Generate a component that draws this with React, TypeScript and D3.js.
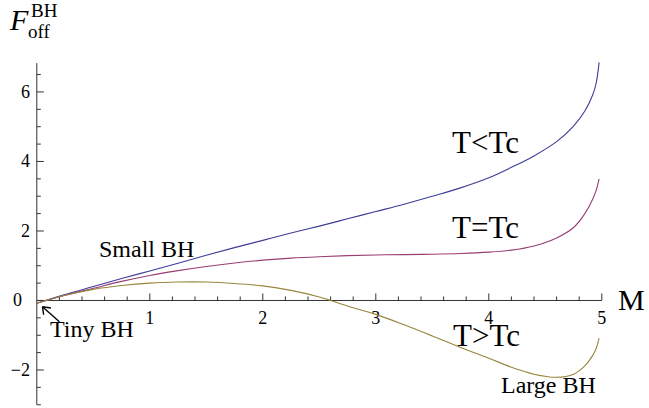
import React from 'react';
import * as d3 from 'd3';

const width = 649;
const height = 408;

// mass values shared by all three curves
const massValues = [0, 0.25, 0.5, 0.75, 1, 1.25, 1.5, 1.75, 2, 2.25, 2.5, 2.75, 3, 3.25, 3.5, 3.75, 4, 4.2, 4.4, 4.6, 4.75, 4.85, 4.92, 4.95, 4.976];
// T<Tc
const belowTcValues = [-0.08, 0.17, 0.4, 0.63, 0.85, 1.07, 1.3, 1.52, 1.73, 1.94, 2.14, 2.35, 2.56, 2.77, 3.0, 3.24, 3.53, 3.83, 4.16, 4.57, 5.02, 5.45, 5.92, 6.25, 6.85];
// T=Tc
const atTcValues = [-0.08, 0.15, 0.35, 0.55, 0.72, 0.86, 0.98, 1.08, 1.16, 1.22, 1.26, 1.29, 1.31, 1.32, 1.33, 1.35, 1.39, 1.45, 1.57, 1.8, 2.1, 2.5, 2.92, 3.17, 3.5];
// T>Tc
const aboveTcValues = [-0.08, 0.15, 0.32, 0.43, 0.5, 0.53, 0.53, 0.49, 0.42, 0.29, 0.1, -0.16, -0.4, -0.7, -1.02, -1.35, -1.66, -1.92, -2.12, -2.21, -2.12, -1.88, -1.58, -1.38, -1.08];

const xTicks = [1, 2, 3, 4, 5];
const yTicks = [-2, 0, 2, 4, 6];

const seriesColors = ['#3d3d99', '#993d73', '#99853d'];
const font = '"Liberation Serif", "Times New Roman", Times, "DejaVu Serif", serif';

const App = () => {
  const x = d3.scaleLinear().domain([0, 5]).range([36.8, 601.8]);
  const y = d3.scaleLinear().domain([-3, 6.83]).range([404.75, 63.1]);

  const series = [belowTcValues, atTcValues, aboveTcValues];
  const line = d3.line<number>()
    .x((d, i) => x(massValues[i]))
    .y(d => y(d))
    .curve(d3.curveCatmullRom.alpha(0.5));

  const xMinor = d3.range(1, 26).map(i => i * 0.2);
  const yMinor = d3.range(-6, 14).map(i => i * 0.5);
  const axisColor = '#333';
  const txt = { fontFamily: font, fill: '#000' };

  return (
    <svg width={width} height={height} style={{ position: 'absolute', left: 0, top: 0 }}>
      <rect width={width} height={height} fill="white" />
      {/* x axis */}
      <line x1={x(0)} x2={x(5)} y1={y(0)} y2={y(0)} stroke={axisColor} strokeWidth={1} />
      {xMinor.map(v => {
        const major = Math.abs(v - Math.round(v)) < 1e-6;
        return (
          <line key={'xm' + v} x1={x(v)} x2={x(v)} y1={y(0)} y2={y(0) - (major ? 7 : 4)} stroke={axisColor} />
        );
      })}
      {xTicks.map(v => (
        <text key={'xt' + v} x={x(v)} y={323.5} fontSize={18} textAnchor="middle" style={txt}>{v}</text>
      ))}
      {/* y axis */}
      <line x1={x(0)} x2={x(0)} y1={y(-3)} y2={y(6.83)} stroke={axisColor} strokeWidth={1} />
      {yMinor.map(v => {
        const major = Math.abs(v / 2 - Math.round(v / 2)) < 1e-6;
        return (
          <line key={'ym' + v} x1={x(0)} x2={x(0) + (major ? 7 : 4)} y1={y(v)} y2={y(v)} stroke={axisColor} />
        );
      })}
      {yTicks.map(v => (
        <text key={'yt' + v} x={v === 0 ? 22 : 30} y={y(v) + 6} fontSize={18} textAnchor="end" style={txt}>
          {v < 0 ? '\u2212' + Math.abs(v) : v}
        </text>
      ))}
      {/* curves */}
      {series.map((vals, i) => (
        <path key={'s' + i} d={line(vals) || ''} fill="none" stroke={seriesColors[i]} strokeWidth={1.1} />
      ))}
      {/* axis labels */}
      <text x={10} y={30} fontSize={30} fontStyle="italic" style={txt}>F</text>
      <text x={31} y={17} fontSize={19} style={txt}>BH</text>
      <text x={28} y={38} fontSize={19} style={txt}>off</text>
      <text x={618} y={310} fontSize={30} style={txt}>M</text>
      {/* annotations */}
      <text x={452} y={153} fontSize={31} style={txt}>T&lt;Tc</text>
      <text x={452} y={238} fontSize={31} style={txt}>T=Tc</text>
      <text x={453} y={346} fontSize={31} style={txt}>T&gt;Tc</text>
      <text x={99} y={256.5} fontSize={24} style={txt}>Small BH</text>
      <text x={50} y={337} fontSize={24} style={txt}>Tiny BH</text>
      <text x={501} y={392.5} fontSize={24} style={txt}>Large BH</text>
      <line x1={x(0.2)} y1={y(-0.61)} x2={x(0.05)} y2={y(-0.18)} stroke="#000" strokeWidth={1.4} />
      <path
        d={`M${x(0.05)},${y(-0.18)} l8.5,1.3 M${x(0.05)},${y(-0.18)} l1.2,8`}
        stroke="#000" strokeWidth={1.4} fill="none"
      />
    </svg>
  );
};

export default App;
